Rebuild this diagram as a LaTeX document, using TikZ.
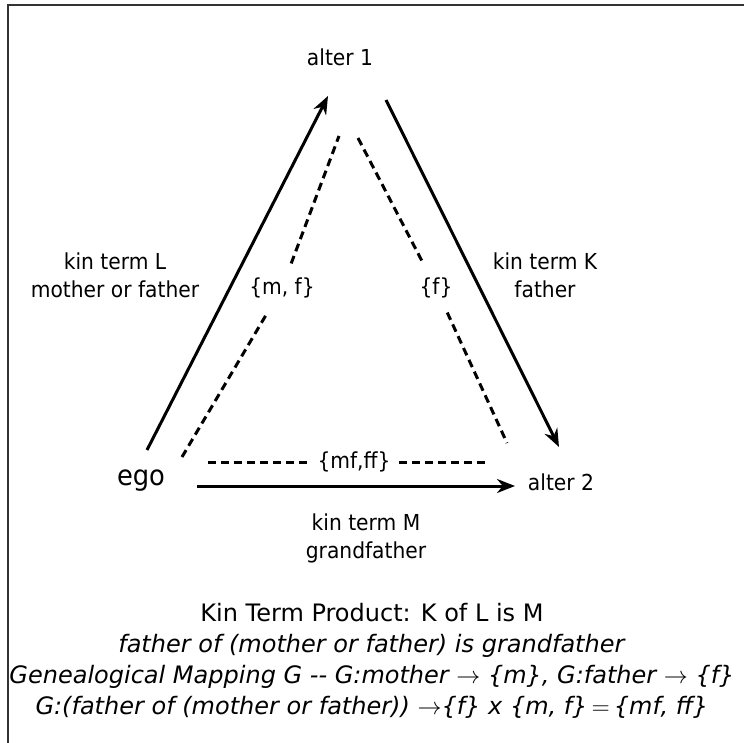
\documentclass[tikz,border=0pt]{standalone}
\usepackage{fontspec}
\setmainfont{DejaVu Sans}
\newfontfamily\narrowfont[FakeStretch=0.92]{DejaVu Sans}
\usetikzlibrary{arrows.meta}

\tikzset{
  kinarrow/.style={line width=1.5pt, -{Stealth[length=9pt, width=7pt]}},
  genline/.style={line width=1.5pt, dash pattern=on 4pt off 2.5pt},
  kinlabel/.style={align=center, font=\narrowfont\fontsize{11}{14}\selectfont, inner sep=1pt},
  setlabel/.style={font=\narrowfont\fontsize{11}{13}\selectfont, inner xsep=4pt, inner ysep=7pt},
  person/.style={font=\narrowfont\fontsize{11}{13}\selectfont, inner sep=0pt}
}

\begin{document}
\begin{tikzpicture}[x=0.5pt, y=-0.5pt]
			\useasboundingbox (0,0) rectangle (744,743);
			\clip (0,0) rectangle (744,743);
			\draw[line width=1pt, black!80] (8,5) rectangle (760,760); % frame, cut at right and bottom

			% People
			\node[person] (alter1) at (340,57) {alter 1};
			\node[person, font=\narrowfont\fontsize{14}{16}\selectfont] (ego) at (141,481) {ego};
			\node[person] (alter2) at (561,482) {alter 2};

			% Ends of the kin term arrows
			\coordinate (L0) at (147,450);
			\coordinate (L1) at (328,96);
			\coordinate (K0) at (386,100);
			\coordinate (K1) at (559,447);
			\coordinate (M0) at (197,486);
			\coordinate (M1) at (515,486);

			% Ends of the genealogical lines
			\coordinate (g1) at (182,457);
			\coordinate (g2) at (339,136);
			\coordinate (g3) at (358,138);
			\coordinate (g4) at (507,443);
			\coordinate (g5) at (208,462);
			\coordinate (g6) at (486,462);

			% Kin terms
			\draw[kinarrow] (L0) -- (L1);
			\draw[kinarrow] (K0) -- (K1);
			\draw[kinarrow] (M0) -- (M1);

			\node[kinlabel] (termL) at (115,275) {kin term L\\mother or father};
			\node[kinlabel] (termK) at (545,275) {kin term K\\father};
			\node[kinlabel] (termM) at (366,538) {kin term M\\grandfather};

			% Genealogical sets
			\node[setlabel] (setL) at (282,288) {\{m, f\}};
			\node[setlabel] (setK) at (436,288) {\{f\}};
			\node[setlabel] (setM) at (354,462) {\{mf,ff\}};

			\draw[genline] (g1) -- (setL);
			\draw[genline] (setL) -- (g2);
			\draw[genline] (g3) -- (setK);
			\draw[genline] (setK) -- (g4);
			\draw[genline] (g5) -- (setM);
			\draw[genline] (setM) -- (g6);

			% Product of the kin terms
			\node[align=center, font=\fontsize{12}{15.5}\selectfont] (product) at (372,661)
			{Kin Term Product: K of L is M\\
			\textit{father of (mother or father) is grandfather}\\
			\textit{Genealogical Mapping G {-}{-} G:mother $\rightarrow$ \{m\}, G:father $\rightarrow$ \{f\}}\\
			\textit{G:(father of (mother or father)) $\rightarrow$\{f\} x \{m, f\}$\,=\,$\{mf, ff\}}};
		\end{tikzpicture}
\end{document}
